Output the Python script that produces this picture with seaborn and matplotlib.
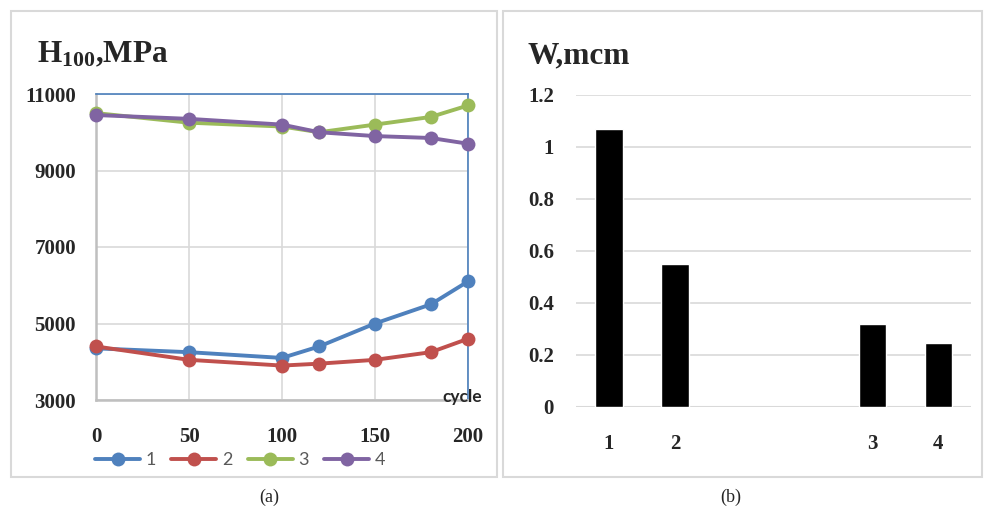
import matplotlib
matplotlib.use("Agg")
import matplotlib.pyplot as plt
from matplotlib.patches import Rectangle
import seaborn as sns
import pandas as pd
import numpy as np

sns.set_theme(style="white")
plt.rcParams['font.family'] = ['Liberation Serif', 'DejaVu Sans']
plt.rcParams['mathtext.fontset'] = 'custom'
plt.rcParams['mathtext.rm'] = 'Liberation Serif:bold'
plt.rcParams['mathtext.default'] = 'rm'

# ---- data (a) ----
cycles = [0, 50, 100, 120, 150, 180, 200]
h_s1 = [4350, 4250, 4100, 4400, 5000, 5500, 6100]
h_s2 = [4400, 4050, 3900, 3950, 4050, 4250, 4600]
h_s3 = [10500, 10250, 10150, 10000, 10200, 10400, 10700]
h_s4 = [10450, 10350, 10200, 10000, 9900, 9850, 9700]
series_names = ["1", "2", "3", "4"]
series_colors = ["#4F81BD", "#C0504D", "#9BBB59", "#8064A2"]
x_ticks_a = [0, 50, 100, 150, 200]
y_ticks_a = [3000, 5000, 7000, 9000, 11000]

# ---- data (b) ----
bar_slots = ["1", "2", "", " ", "3", "4"]
bar_labels = ["1", "2", "3", "4"]
bar_values = [1.07, 0.55, 0.32, 0.245]
y_ticks_b = [0, 0.2, 0.4, 0.6, 0.8, 1, 1.2]
y_ticklabels_b = ["0", "0.2", "0.4", "0.6", "0.8", "1", "1.2"]

W, H = 984, 512
fig = plt.figure(figsize=(W / 100, H / 100), dpi=100)

def fx(x):
    return x / W

def fy(y):
    return 1 - y / H

# panel frames
for (x0, y0, x1, y1) in [(11, 11, 497, 477), (503, 11, 982, 477)]:
    fig.patches.append(Rectangle((fx(x0), fy(y1)), fx(x1 - x0), (y1 - y0) / H,
                                 transform=fig.transFigure, fill=False,
                                 edgecolor="#D9D9D9", linewidth=1.5, zorder=0))

TICK_FS = 15

# ---- panel (a) ----
ax1 = fig.add_axes([fx(96), fy(400), fx(468 - 96), (400 - 94) / H])
df = pd.DataFrame({
    "cycle": cycles * 4,
    "H": h_s1 + h_s2 + h_s3 + h_s4,
    "series": sum([[n] * len(cycles) for n in series_names], []),
})
sns.lineplot(data=df, x="cycle", y="H", hue="series", palette=series_colors,
             marker="o", markersize=10, markeredgewidth=0, linewidth=2.8,
             ax=ax1, legend=True, clip_on=False, zorder=5)
ax1.set_xlim(0, 200)
ax1.set_ylim(3000, 11000)
ax1.set_xticks(x_ticks_a)
ax1.set_yticks(y_ticks_a)
ax1.set_xticklabels([str(v) for v in x_ticks_a], fontsize=TICK_FS, fontweight="bold")
ax1.set_yticklabels([str(v) for v in y_ticks_a], fontsize=TICK_FS, fontweight="bold")
ax1.tick_params(axis="x", length=0, pad=19.5)
ax1.tick_params(axis="y", length=0, pad=14.4)
ax1.grid(True, color="#D9D9D9", linewidth=1.2)
ax1.set_axisbelow(True)
ax1.set_xlabel("")
ax1.set_ylabel("")
for s in ["top", "right"]:
    ax1.spines[s].set_color("#4A7EBB")
    ax1.spines[s].set_linewidth(1.2)
for s in ["left", "bottom"]:
    ax1.spines[s].set_color("#BFBFBF")
    ax1.spines[s].set_linewidth(1.8)

leg = ax1.get_legend()
handles, labels = ax1.get_legend_handles_labels()
leg.remove()
fig.legend(handles, labels, loc="center left", bbox_to_anchor=(fx(86), fy(460)),
           ncol=4, frameon=False, handlelength=2.5, handletextpad=0.3,
           columnspacing=0.85, borderpad=0,
           prop={"family": "Lato", "size": 13}, labelcolor="#595959")

fig.text(fx(482), fy(397), "cycle", ha="right", va="center",
         fontsize=12.5, fontweight="bold", family="Lato")
fig.text(fx(37), fy(62), r"H$_{100}$,MPa", ha="left", va="baseline",
         fontsize=22.5, fontweight="bold")
fig.text(fx(269), fy(497), "(a)", ha="center", va="center", fontsize=13)

# ---- panel (b) ----
ax2 = fig.add_axes([fx(576), fy(406.7), fx(971.3 - 576), (406.7 - 94.7) / H])
dfb = pd.DataFrame({"slot": bar_labels, "W": bar_values})
sns.barplot(data=dfb, x="slot", y="W", order=bar_slots, color="black",
            width=0.42, saturation=1, ax=ax2)
ax2.set_xlim(-0.5, 5.5)
ax2.set_ylim(0, 1.2)
ax2.set_yticks(y_ticks_b)
ax2.set_yticklabels(y_ticklabels_b, fontsize=TICK_FS, fontweight="bold")
ax2.set_xticks(range(len(bar_slots)))
ax2.set_xticklabels(bar_slots, fontsize=TICK_FS, fontweight="bold")
ax2.tick_params(axis="x", length=0, pad=19.3)
ax2.tick_params(axis="y", length=0, pad=15.8)
ax2.grid(True, axis="y", color="#D9D9D9", linewidth=1.2)
ax2.set_axisbelow(True)
ax2.set_xlabel("")
ax2.set_ylabel("")
for s in ["top", "right", "left", "bottom"]:
    ax2.spines[s].set_visible(False)
ax2.axhline(0, color="#D9D9D9", linewidth=1.5, zorder=0)

fig.text(fx(528), fy(63), "W,mcm", ha="left", va="baseline",
         fontsize=22.5, fontweight="bold")
fig.text(fx(731), fy(497), "(b)", ha="center", va="center", fontsize=13)

fig.savefig("out.png", dpi=100)
